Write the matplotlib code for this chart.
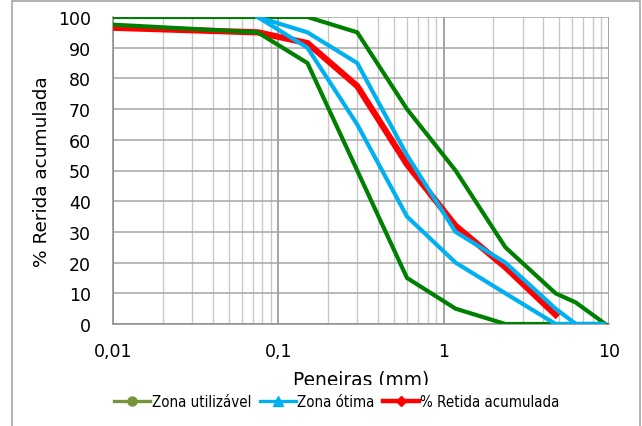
import matplotlib.pyplot as plt
from matplotlib.lines import Line2D
from matplotlib.patches import Rectangle
from matplotlib.ticker import FixedLocator, FixedFormatter, LogLocator, NullFormatter

# sieve openings (mm)
sieves = [0.01, 0.075, 0.15, 0.3, 0.6, 1.18, 2.36, 4.75, 6.3, 9.5]

# zona utilizavel: lower limit up to 9.5, then upper limit back down to 0.01
util_lower = [97.5, 95, 85, 50, 15, 5, 0, 0, 0, 0]
util_upper = [100, 100, 100, 95, 70, 50, 25, 10, 7, 0]

# zona otima: starts at 0.075
otima_sieves = sieves[1:]
otima_lower = [100, 90, 65, 35, 20, 10, 0, 0, 0]
otima_upper = [100, 95, 85, 55, 30, 20, 5, 0, 0]

# % retida acumulada (sample)
amostra_sieves = sieves[:8]
amostra = [96.5, 95, 91.5, 77.5, 52, 32, 18.5, 3]

util_x = sieves + sieves[::-1][1:]
util_y = util_lower + util_upper[::-1][1:]
otima_x = otima_sieves + otima_sieves[::-1][1:]
otima_y = otima_lower + otima_upper[::-1][1:]

green = '#008000'
blue = '#00B0F0'
red = '#FF0000'

fig = plt.figure(figsize=(6.42, 4.27), dpi=100)
ax = fig.add_axes([113 / 642, 1 - 325 / 427, (609 - 113) / 642, (325 - 18) / 427])

ax.plot(amostra_sieves, amostra, color=red, lw=4.5, zorder=3, solid_joinstyle='miter')
ax.plot(util_x, util_y, color=green, lw=3, zorder=4, solid_joinstyle='miter')
ax.plot(otima_x, otima_y, color=blue, lw=3, zorder=5, solid_joinstyle='miter')

ax.set_xscale('log')
ax.set_xlim(0.01, 10)
ax.set_ylim(0, 100)
ax.set_yticks(range(0, 101, 10))
ax.xaxis.set_major_locator(FixedLocator([0.01, 0.1, 1, 10]))
ax.xaxis.set_major_formatter(FixedFormatter(['0,01', '0,1', '1', '10']))
ax.xaxis.set_minor_locator(LogLocator(base=10, subs=range(2, 10)))
ax.xaxis.set_minor_formatter(NullFormatter())

ax.grid(True, which='major', axis='y', color='#A6A6A6', lw=1.1, zorder=0)
ax.grid(True, which='major', axis='x', color='#8C8C8C', lw=1.1, zorder=0)
ax.grid(True, which='minor', axis='x', color='#C8C8C8', lw=1.0, zorder=0)
for s in ['top', 'right']:
    ax.spines[s].set_visible(False)
for s in ['left', 'bottom']:
    ax.spines[s].set_color('#8C8C8C')
    ax.spines[s].set_linewidth(1.1)
ax.tick_params(which='both', length=0, labelsize=12.5, colors='black')
ax.tick_params(axis='x', pad=13)
ax.tick_params(axis='y', pad=16)
ax.set_axisbelow(True)

ax.set_ylabel('% Rerida acumulada', fontsize=13.3)
ax.yaxis.set_label_coords(-(113 - 42) / 496, 0.5, transform=ax.transAxes)
ax.yaxis.label.set_va('center')
ax.set_xlabel('Peneiras (mm)', fontsize=13.4)
ax.xaxis.set_label_coords(0.5, -(371 - 325) / 307, transform=ax.transAxes)
ax.xaxis.label.set_va('top')

# white band under the plot: the legend area hides the bottom of the x label
fig.patches.append(Rectangle((13 / 642, 0), (639 - 13) / 642, 1 - 386 / 427,
                             transform=fig.transFigure, facecolor='white', edgecolor='none', zorder=2))

handles = [
    Line2D([], [], color='#77933C', lw=2.4, marker='o', markersize=6.5),
    Line2D([], [], color=blue, lw=2.4, marker='^', markersize=6.5),
    Line2D([], [], color=red, lw=3.2, marker='D', markersize=5),
]
labels = ['Zona utilizável', 'Zona ótima', '% Retida acumulada']
leg = fig.legend(handles, labels, loc='center', bbox_to_anchor=(337 / 642, 1 - 403 / 427),
                 ncol=3, frameon=False, handlelength=2.4, handletextpad=0.1, columnspacing=0.55,
                 borderpad=0.2,
                 prop={'family': 'DejaVu Sans', 'stretch': 'condensed', 'size': 10.8})
leg.set_zorder(3)

fig.patches.append(Rectangle((12 / 642, -0.1), (640 - 12) / 642, 1.1 - 2 / 427,
                             transform=fig.transFigure, fill=False, edgecolor='#A6A6A6', lw=1.2,
                             zorder=4))

fig.savefig('out.png', dpi=100)
